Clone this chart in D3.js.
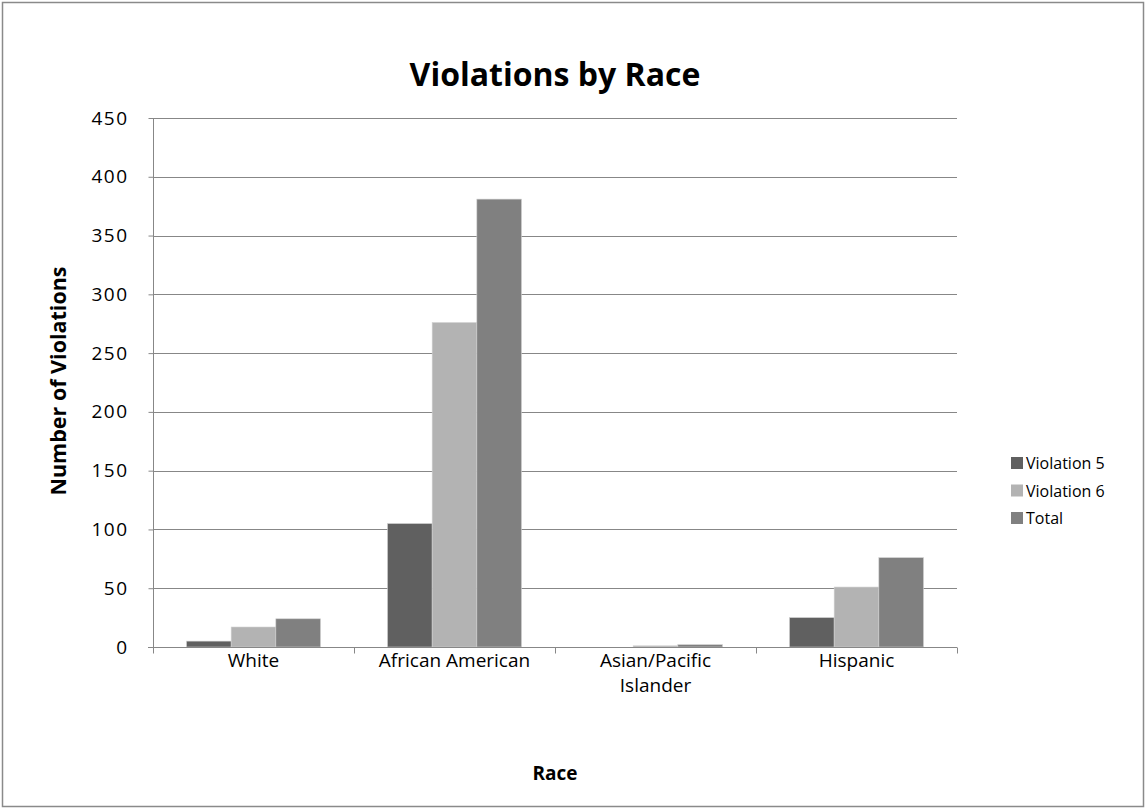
<!DOCTYPE html>
<html>
<head>
<meta charset="utf-8">
<script src="https://cdn.jsdelivr.net/npm/d3@7"></script>
<style>
  body { margin: 0; background: #fff; }
  text { font-family: "Open Sans", "DejaVu Sans", sans-serif; fill: #000; }
</style>
</head>
<body>
<div id="chart"></div>
<script>
// chart values
var categories = ["White", "African American", "Asian/Pacific Islander", "Hispanic"];
var seriesNames = ["Violation 5", "Violation 6", "Total"];
var violation5 = [5, 105, 0, 25];
var violation6 = [17, 276, 1, 51];
var total = [24, 381, 2, 76];
var yTicks = [0, 50, 100, 150, 200, 250, 300, 350, 400, 450];
var colors = ["#606060", "#b3b3b3", "#808080"];

drawchart();

function drawchart() {
    var w = 1146, h = 809;
    var pLeft = 153, pRight = 957, pTop = 118, pBottom = 647;

    var svg = d3.select("#chart").append("svg")
        .attr("width", w)
        .attr("height", h);

    // outer frame
    svg.append("rect")
        .attr("x", 2.5).attr("y", 2.5)
        .attr("width", w - 5).attr("height", h - 5)
        .attr("fill", "#fff")
        .attr("stroke", "#8a8a8a")
        .attr("stroke-width", 1.5);

    var x0 = d3.scaleBand().domain(categories).range([pLeft, pRight]).paddingInner(0).paddingOuter(0);
    var x1 = d3.scaleBand().domain(seriesNames).range([0, x0.bandwidth()]).paddingInner(0).paddingOuter(0.75);
    var y = d3.scaleLinear().domain([0, 450]).range([pBottom, pTop]);

    // gridlines
    svg.append("g").selectAll("line")
        .data(yTicks.slice(1))
        .enter().append("line")
        .attr("x1", pLeft).attr("x2", pRight)
        .attr("y1", function(d) { return Math.round(y(d)) + 0.5; })
        .attr("y2", function(d) { return Math.round(y(d)) + 0.5; })
        .attr("stroke", "#878787")
        .attr("stroke-width", 1);

    // bars
    var rows = categories.map(function(c, i) {
        return [violation5[i], violation6[i], total[i]];
    });
    var groups = svg.append("g").selectAll("g")
        .data(rows)
        .enter().append("g")
        .attr("transform", function(d, i) { return "translate(" + x0(categories[i]) + ",0)"; });
    groups.selectAll("rect")
        .data(function(d) { return d; })
        .enter().append("rect")
        .attr("x", function(d, i) { return x1(seriesNames[i]); })
        .attr("y", function(d) { return y(d); })
        .attr("width", x1.bandwidth())
        .attr("height", function(d) { return pBottom - y(d); })
        .attr("fill", function(d, i) { return colors[i]; })
        .attr("stroke", "#d0d0d0")
        .attr("stroke-width", 0.6);

    // y axis
    var yAxis = d3.axisLeft(y).tickValues(yTicks).tickSize(5).tickPadding(20);
    var gy = svg.append("g")
        .attr("transform", "translate(" + (pLeft + 0.5) + ",0)")
        .call(yAxis);
    gy.select(".domain").attr("stroke", "#878787").attr("d", "M0," + pTop + "V" + pBottom);
    gy.selectAll(".tick line").attr("stroke", "#878787");
    gy.selectAll(".tick text")
        .attr("font-size", "19px")
        .attr("letter-spacing", "1.5px")
        .attr("font-family", "Open Sans, DejaVu Sans, sans-serif")
        .attr("fill", "#000");

    // x axis
    var xAxis = d3.axisBottom(x0).tickSize(0).tickFormat("");
    var gx = svg.append("g")
        .attr("transform", "translate(0," + (pBottom + 0.5) + ")")
        .call(xAxis);
    gx.select(".domain").attr("stroke", "#878787").attr("d", "M" + (pLeft - 5) + ",0H" + pRight);
    // category boundary ticks
    gx.selectAll(".bound")
        .data(categories.concat(["end"]))
        .enter().append("line")
        .attr("x1", function(d, i) { return Math.round(pLeft + i * x0.bandwidth()) + 0.5; })
        .attr("x2", function(d, i) { return Math.round(pLeft + i * x0.bandwidth()) + 0.5; })
        .attr("y1", 0).attr("y2", 6)
        .attr("stroke", "#878787");

    // category labels
    var lbl = svg.append("g").selectAll("text")
        .data(categories)
        .enter().append("text")
        .attr("x", function(d) { return x0(d) + x0.bandwidth() / 2; })
        .attr("y", 667)
        .attr("text-anchor", "middle")
        .attr("font-size", "19px");
    lbl.each(function(d) {
        var t = d3.select(this);
        var parts = d === "Asian/Pacific Islander" ? ["Asian/Pacific", "Islander"] : [d];
        parts.forEach(function(p, j) {
            t.append("tspan")
                .attr("x", t.attr("x"))
                .attr("dy", j === 0 ? 0 : 25)
                .text(p);
        });
    });

    // title and axis titles
    svg.append("text")
        .attr("x", 555).attr("y", 86)
        .attr("text-anchor", "middle")
        .attr("font-size", "32px")
        .attr("font-weight", "bold")
        .text("Violations by Race");

    svg.append("text")
        .attr("x", 555).attr("y", 780)
        .attr("text-anchor", "middle")
        .attr("font-size", "19px")
        .attr("font-weight", "bold")
        .text("Race");

    svg.append("text")
        .attr("transform", "translate(66,381) rotate(-90)")
        .attr("text-anchor", "middle")
        .attr("font-size", "21.5px")
        .attr("font-weight", "bold")
        .text("Number of Violations");

    // legend
    var legend = svg.append("g").selectAll("g")
        .data(seriesNames)
        .enter().append("g")
        .attr("transform", function(d, i) { return "translate(1011," + (463 + i * 27.5) + ")"; });
    legend.append("rect")
        .attr("x", 0).attr("y", -6)
        .attr("width", 12).attr("height", 12)
        .attr("fill", function(d, i) { return colors[i]; });
    legend.append("text")
        .attr("x", 15).attr("y", 6)
        .attr("font-size", "16px")
        .text(function(d) { return d; });
}
</script>
</body>
</html>
